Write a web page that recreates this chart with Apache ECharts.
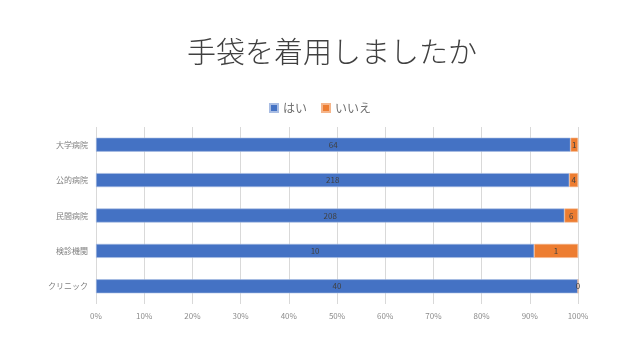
<!DOCTYPE html>
<html><head><meta charset="utf-8">
<script src="https://cdn.jsdelivr.net/npm/echarts@6/dist/echarts.min.js"></script>
<style>html,body{margin:0;padding:0;background:#fff}#c{width:640px;height:360px}</style>
</head><body><div id="c"></div>
<script>
const categories = ['大学病院','公的病院','民間病院','検診機関','クリニック'];
const yesValues = [64, 218, 208, 10, 40];
const noValues = [1, 4, 6, 1, 0];
const xTickLabels = ['0%','10%','20%','30%','40%','50%','60%','70%','80%','90%','100%'];

const totals = yesValues.map((v,i)=>v+noValues[i]);
const pct = arr => arr.map((v,i)=>({value: v/totals[i]*100, raw: v}));
const font = '"Noto Sans CJK JP", "Noto Sans", sans-serif';
const chart = echarts.init(document.getElementById('c'));
chart.setOption({
  animation:false,
  textStyle:{fontFamily:font},
  title:{text:'手袋を着用しましたか',left:182,top:32,
    textStyle:{fontFamily:font,fontSize:29,fontWeight:300,color:'#404040'}},
  legend:{top:97,left:'center',itemWidth:8,itemHeight:8,itemGap:14,icon:'rect',
    textStyle:{fontFamily:font,fontSize:12,color:'#6f6f6f'},data:['はい','いいえ']},
  grid:{left:96,right:62,top:127,bottom:56,containLabel:false},
  xAxis:{type:'value',min:0,max:100,interval:10,
    axisLine:{show:false},axisTick:{show:false},
    splitLine:{lineStyle:{color:'#d9d9d9',width:1}},
    axisLabel:{formatter:(v)=>xTickLabels[Math.round(v/10)],color:'#8c8c8c',fontSize:8,margin:8}},
  yAxis:{type:'category',data:categories,inverse:true,
    axisLine:{show:false},axisTick:{show:false},
    axisLabel:{color:'#7f7f7f',fontSize:8,margin:8}},
  series:[
    {name:'はい',type:'bar',stack:'s',data:pct(yesValues),barWidth:14,
      itemStyle:{color:'#4472C4',borderColor:'#a9bde3',borderWidth:0.6},
      label:{show:true,position:'inside',color:'#404040',fontSize:8,formatter:p=>p.data.raw}},
    {name:'いいえ',type:'bar',stack:'s',data:pct(noValues),barWidth:14,
      itemStyle:{color:'#ED7D31',borderColor:'#f5b58a',borderWidth:0.6},
      label:{show:true,position:'inside',color:'#404040',fontSize:8,formatter:p=>p.data.raw}}
  ]
});
</script></body></html>
